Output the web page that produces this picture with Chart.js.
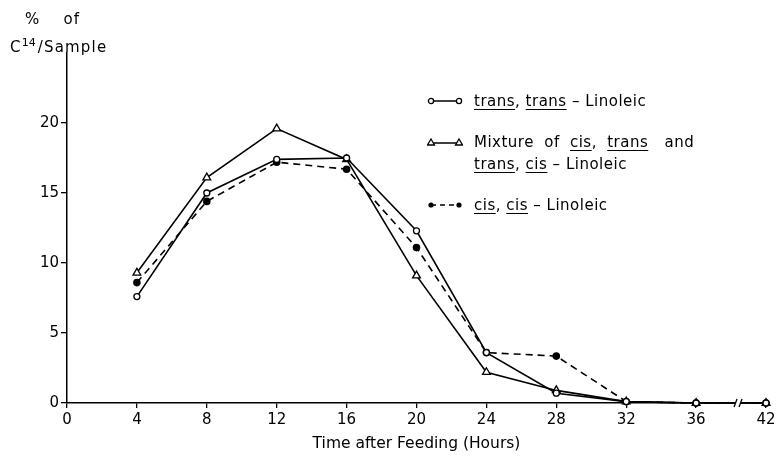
<!DOCTYPE html>
<html lang="en">
<head>
  <meta charset="UTF-8">
  <title>C14 after feeding</title>
  <script src="https://cdn.jsdelivr.net/npm/chart.js"></script>
  <style>
    body {
      margin: 0;
      background: #ffffff;
      font-family: 'DejaVu Sans', sans-serif;
      color: #000;
    }

    .wrap {
      position: relative;
      width: 780px;
      height: 457px;
    }

    .ytitle {
      position: absolute;
      left: 10px;
      top: 7px;
      font-size: 15px;
      line-height: 24px;
      letter-spacing: 1.2px;
    }

    .ytitle .pct {
      padding-left: 15px;
      word-spacing: 17px;
    }

    .ytitle sup {
      font-size: 11px;
      letter-spacing: 0;
      margin-right: 2px;
    }

    .legend {
      position: absolute;
      left: 427px;
      top: 90px;
      font-size: 15px;
      letter-spacing: 0.5px;
    }

    .legend .row {
      position: relative;
      padding-left: 47px;
      line-height: 22px;
      margin-bottom: 19px;
    }

    .legend .wide {
      word-spacing: 5px;
    }

    .legend .and {
      margin-left: 6px;
    }

    .legend svg {
      position: absolute;
      left: 0;
      top: 5px;
    }

    .legend u {
      text-underline-offset: 3px;
    }
  </style>
</head>
<body>

  <div class="wrap">
    <canvas id="c14Chart"></canvas>

    <div class="ytitle"><span class="pct">% of</span><br>C<sup>14</sup>/Sample</div>

    <div class="legend">
      <div class="row">
        <svg width="36" height="12"><line x1="4" y1="6" x2="32" y2="6" stroke="#000" stroke-width="1.5"/><circle cx="4" cy="6" r="2.6" fill="#fff" stroke="#000" stroke-width="1.3"/><circle cx="32" cy="6" r="2.6" fill="#fff" stroke="#000" stroke-width="1.3"/></svg>
        <u>trans</u>, <u>trans</u> – Linoleic
      </div>
      <div class="row">
        <svg width="36" height="12"><line x1="4" y1="7" x2="32" y2="7" stroke="#000" stroke-width="1.5"/><polygon points="4,3 7.5,9 0.5,9" fill="#fff" stroke="#000" stroke-width="1.3"/><polygon points="32,3 35.5,9 28.5,9" fill="#fff" stroke="#000" stroke-width="1.3"/></svg>
        <span class="wide">Mixture of <u>cis</u>, <u>trans</u> <span class="and">and</span></span><br><u>trans</u>, <u>cis</u> – Linoleic
      </div>
      <div class="row">
        <svg width="36" height="12"><line x1="4" y1="6" x2="32" y2="6" stroke="#000" stroke-width="1.5" stroke-dasharray="5,4"/><circle cx="4" cy="6" r="2.6" fill="#000"/><circle cx="32" cy="6" r="2.6" fill="#000"/></svg>
        <u>cis</u>, <u>cis</u> – Linoleic
      </div>
    </div>
  </div>

  <script>
    // hours after feeding (the last one sits past an axis break)
    const hours = ['0', '4', '8', '12', '16', '20', '24', '28', '32', '36', '42'];

    // % of C14 per sample
    const transTrans = [null, 7.6, 15.0, 17.4, 17.5, 12.3, 3.6, 0.7, 0.1, 0, 0];
    const mixture    = [null, 9.3, 16.1, 19.6, 17.4, 9.1, 2.2, 0.9, 0.1, 0, 0];
    const cisCis     = [null, 8.6, 14.4, 17.2, 16.7, 11.1, 3.6, 3.35, 0.1, 0, 0];

    const yTicks = [0, 5, 10, 15, 20];

    // little // mark on the x axis between 36 and 42
    const axisBreak = {
      id: 'axisBreak',
      afterDraw(chart) {
        const ctx = chart.ctx;
        const x = chart.scales.x;
        const y0 = chart.scales.y.getPixelForValue(0);
        const a = x.getPixelForValue(9);
        const b = x.getPixelForValue(10);
        const px = a + (b - a) * 0.6;
        ctx.save();
        ctx.fillStyle = '#fff';
        ctx.fillRect(px - 2, y0 - 4, 4, 8);
        ctx.strokeStyle = '#000';
        ctx.lineWidth = 1.3;
        ctx.beginPath();
        ctx.moveTo(px - 4, y0 + 4); ctx.lineTo(px - 1, y0 - 4);
        ctx.moveTo(px + 1, y0 + 4); ctx.lineTo(px + 4, y0 - 4);
        ctx.stroke();
        ctx.restore();
      }
    };

    const ctx = document.getElementById('c14Chart').getContext('2d');
    new Chart(ctx, {
      type: 'line',
      data: {
        labels: hours,
        datasets: [
          {
            label: 'trans, trans-Linoleic',
            data: transTrans,
            borderColor: '#000',
            borderWidth: 1.6,
            pointStyle: 'circle',
            pointRadius: 3,
            pointBackgroundColor: '#fff',
            pointBorderColor: '#000',
            pointBorderWidth: 1.3,
            tension: 0,
            clip: false
          },
          {
            label: 'Mixture of cis, trans and trans, cis-Linoleic',
            data: mixture,
            borderColor: '#000',
            borderWidth: 1.6,
            pointStyle: 'triangle',
            pointRadius: 4.5,
            pointBackgroundColor: '#fff',
            pointBorderColor: '#000',
            pointBorderWidth: 1.3,
            tension: 0,
            clip: false
          },
          {
            label: 'cis, cis-Linoleic',
            data: cisCis,
            borderColor: '#000',
            borderWidth: 1.6,
            borderDash: [7, 5],
            pointStyle: 'circle',
            pointRadius: 3,
            pointBackgroundColor: '#000',
            pointBorderColor: '#000',
            tension: 0,
            clip: false
          }
        ]
      },
      options: {
        responsive: true,
        maintainAspectRatio: false,
        animation: false,
        layout: {
          padding: { top: 53, right: 14, left: 0, bottom: 0 }
        },
        plugins: {
          legend: { display: false },
          tooltip: { enabled: false }
        },
        scales: {
          x: {
            type: 'category',
            offset: false,
            afterFit(axis) { axis.height = 54; },
            border: { display: true, color: '#000', width: 1.5 },
            grid: {
              drawOnChartArea: false,
              drawTicks: true,
              tickLength: 5,
              color: '#000',
              lineWidth: 1.3
            },
            ticks: {
              color: '#000',
              padding: 3,
              maxRotation: 0,
              font: { family: 'DejaVu Sans', size: 15 }
            },
            title: {
              display: true,
              text: 'Time after Feeding (Hours)',
              color: '#000',
              padding: { top: 0, bottom: 4 },
              font: { family: 'DejaVu Sans', size: 15.5 }
            }
          },
          y: {
            min: 0,
            max: 25,
            afterFit(axis) { axis.width = 67; },
            afterBuildTicks(axis) {
              axis.ticks = yTicks.map(v => ({ value: v }));
            },
            border: { display: true, color: '#000', width: 1.5 },
            grid: {
              drawOnChartArea: false,
              drawTicks: true,
              tickLength: 6,
              color: '#000',
              lineWidth: 1.3
            },
            ticks: {
              color: '#000',
              padding: 2,
              font: { family: 'DejaVu Sans', size: 15 }
            }
          }
        }
      },
      plugins: [axisBreak]
    });
  </script>

</body>
</html>
